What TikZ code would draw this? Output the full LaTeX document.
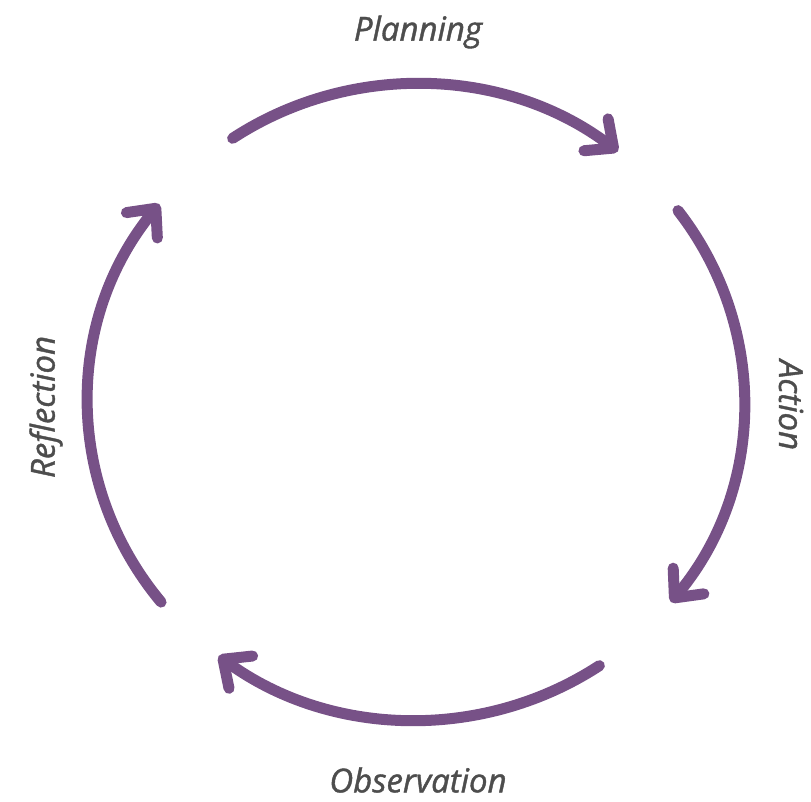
\documentclass[tikz,border=0pt]{standalone}
\usepackage{fontspec}
\setmainfont{Open Sans}
\newfontfamily\labelfont[FakeBold=1.2]{Open Sans}
\usetikzlibrary{arrows.meta}
\definecolor{cyclepurple}{HTML}{775187}
\definecolor{labelgrey}{HTML}{4D4D4D}
\tikzset{
  cyclearrow/.style={draw=cyclepurple, line width=11pt, line cap=round,
    -{Straight Barb[length=22pt,width=40pt,round]}},
  cyclelabel/.style={text=labelgrey, inner sep=0pt,
    font=\labelfont\fontsize{33}{40}\selectfont\itshape}
}
\newcommand{\cyclearc}[3]{ \coordinate (#1) at (#2:328 and 318); \draw[cyclearrow] (#1) arc[start angle=#2, end angle=#3, x radius=328, y radius=318];}

\begin{document}
\begin{tikzpicture}[x=1pt,y=1pt]
    \useasboundingbox (0,0) rectangle (811,802);
    \begin{scope}[shift={(416,400)}]
        % arcs
        \cyclearc{plan}{124}{52}
        \cyclearc{act}{37}{-39}
        \cyclearc{obs}{-56}{-127}
        \cyclearc{refl}{219}{141.5}
        % labels
        \node[cyclelabel] (planlabel) at (2,370) {Planning};
        \node[cyclelabel, rotate=-90] (actlabel) at (375,-3) {Action};
        \node[cyclelabel] (obslabel) at (2,-378) {Observation};
        \node[cyclelabel, rotate=90] (refllabel) at (-370,-5) {Reflection};
    \end{scope}
\end{tikzpicture}
\end{document}
